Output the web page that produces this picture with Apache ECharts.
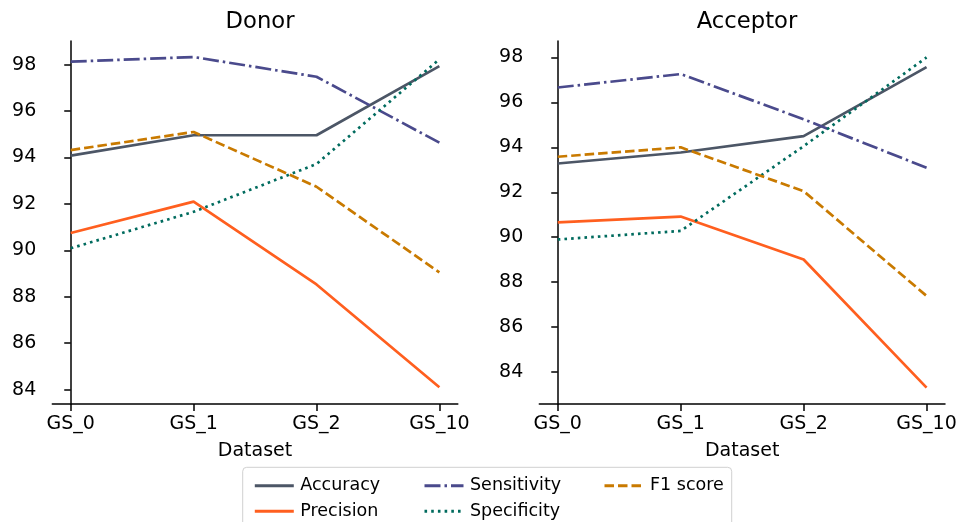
<!DOCTYPE html>
<html>
<head>
<meta charset="utf-8">
<script src="https://cdn.jsdelivr.net/npm/echarts@6/dist/echarts.min.js"></script>
<style>
  html, body { margin: 0; padding: 0; background: #fff; }
  #main { width: 960px; height: 522px; }
</style>
</head>
<body>
<div id="main"></div>
<script>
var categories = ['GS_0', 'GS_1', 'GS_2', 'GS_10'];
var yTicks = [84, 86, 88, 90, 92, 94, 96, 98];

// Donor
var donorAccuracy = [94.08, 94.96, 94.96, 97.94];
var donorPrecision = [90.75, 92.1, 88.53, 84.1];
var donorSensitivity = [98.13, 98.33, 97.48, 94.64];
var donorSpecificity = [90.09, 91.66, 93.72, 98.23];
var donorF1 = [94.32, 95.1, 92.74, 89.05];

// Acceptor
var accAccuracy = [93.28, 93.77, 94.5, 97.57];
var accPrecision = [90.66, 90.92, 89.01, 83.31];
var accSensitivity = [96.66, 97.26, 95.25, 93.09];
var accSpecificity = [89.9, 90.28, 94.05, 98.0];
var accF1 = [93.58, 94.0, 92.05, 87.39];

var font = 'DejaVu Sans';
var styles = {
    'Accuracy': {color: '#4c5666', type: 'solid'},
    'Precision': {color: '#ff5f1f', type: 'solid'},
    'Sensitivity': {color: '#4a4a8c', type: [16, 4, 2.5, 4]},
    'Specificity': {color: '#006b5e', type: [2.6, 4.1]},
    'F1 score': {color: '#c97a00', type: [9.5, 4]}
};

function pairs(arr) {
    return arr.map(function (v, i) { return [i, v]; });
}

function makeSeries(name, arr, idx) {
    var st = styles[name];
    return {
        name: name,
        type: 'line',
        xAxisIndex: idx,
        yAxisIndex: idx,
        data: pairs(arr),
        symbol: 'none',
        animation: false,
        color: st.color,
        lineStyle: {color: st.color, width: 2.7, type: st.type}
    };
}

function xAxisOpt(idx) {
    return {
        type: 'value',
        gridIndex: idx,
        min: -0.15,
        max: 3.15,
        name: 'Dataset',
        nameLocation: 'middle',
        nameGap: 38,
        nameTextStyle: {fontFamily: font, fontSize: 19, color: '#000'},
        splitLine: {show: false},
        axisLine: {lineStyle: {color: '#000', width: 1.5}},
        axisTick: {show: true, length: 7, lineStyle: {color: '#000', width: 1.5}, customValues: [0, 1, 2, 3]},
        axisLabel: {
            customValues: [0, 1, 2, 3],
            margin: 11,
            fontFamily: font, fontSize: 19, color: '#000',
            formatter: function (v) { return categories[Math.round(v)]; }
        }
    };
}

function yAxisOpt(idx, min, max) {
    return {
        type: 'value',
        gridIndex: idx,
        min: min,
        max: max,
        splitLine: {show: false},
        axisLine: {show: true, lineStyle: {color: '#000', width: 1.5}},
        axisTick: {show: true, length: 6.5, lineStyle: {color: '#000', width: 1.5}, customValues: yTicks},
        axisLabel: {customValues: yTicks, margin: 16, fontFamily: font, fontSize: 19, color: '#000'}
    };
}

// one legend per entry so the column-major layout of the original is kept
function legendOpt(name, left, top) {
    return {
        data: [name],
        left: left,
        top: top,
        itemWidth: 39,
        itemHeight: 20,
        selectedMode: false,
        itemStyle: {opacity: 0},
        lineStyle: {width: 3},
        textStyle: {fontFamily: font, fontSize: 17.5, color: '#000', padding: [0, 0, 0, 1.5]}
    };
}

var myChart = echarts.init(document.getElementById('main'));
var option = {
    backgroundColor: '#fff',
    animation: false,
    title: [
        {text: 'Donor', left: 255, top: 6, textAlign: 'center',
            textStyle: {fontFamily: font, fontSize: 22.7, fontWeight: 'normal', color: '#000'}},
        {text: 'Acceptor', left: 742, top: 6, textAlign: 'center',
            textStyle: {fontFamily: font, fontSize: 22.7, fontWeight: 'normal', color: '#000'}}
    ],
    graphic: [{
        type: 'rect',
        shape: {x: 242.7, y: 467.3, width: 489, height: 70, r: 4},
        style: {fill: 'rgba(255,255,255,0.8)', stroke: '#d0d0d0', lineWidth: 1},
        z: -1
    }],
    legend: [
        legendOpt('Accuracy', 248.3, 471.7),
        legendOpt('Precision', 248.3, 497.3),
        legendOpt('Sensitivity', 418, 471.7),
        legendOpt('Specificity', 418, 497.3),
        legendOpt('F1 score', 598, 471.7)
    ],
    grid: [
        {left: 52.3, top: 41, width: 405.5, height: 363},
        {left: 539.3, top: 41, width: 405.7, height: 363}
    ],
    xAxis: [xAxisOpt(0), xAxisOpt(1)],
    yAxis: [yAxisOpt(0, 83.38, 99.02), yAxisOpt(1, 82.58, 98.73)],
    series: [
        makeSeries('Accuracy', donorAccuracy, 0),
        makeSeries('Precision', donorPrecision, 0),
        makeSeries('Sensitivity', donorSensitivity, 0),
        makeSeries('Specificity', donorSpecificity, 0),
        makeSeries('F1 score', donorF1, 0),
        makeSeries('Accuracy', accAccuracy, 1),
        makeSeries('Precision', accPrecision, 1),
        makeSeries('Sensitivity', accSensitivity, 1),
        makeSeries('Specificity', accSpecificity, 1),
        makeSeries('F1 score', accF1, 1)
    ]
};
myChart.setOption(option);
</script>
</body>
</html>
